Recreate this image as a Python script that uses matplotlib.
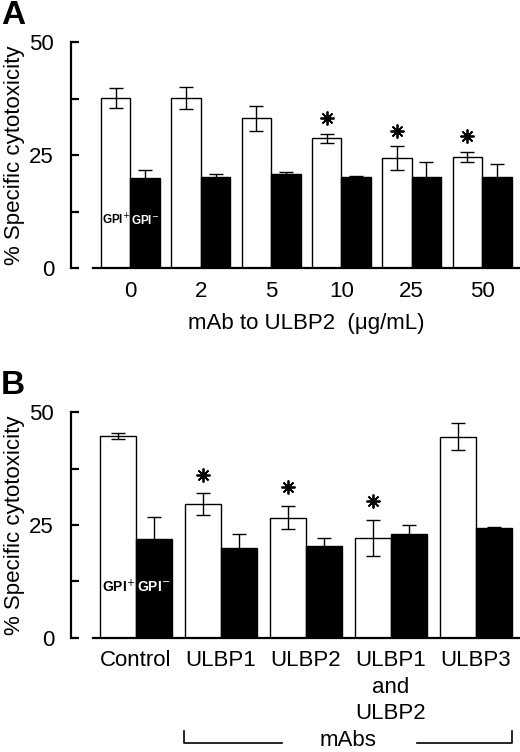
import matplotlib.pyplot as plt
import numpy as np

plt.rcParams['font.family'] = ['Liberation Sans', 'DejaVu Sans']

# panel A: mAb to ULBP2 dose
doses = ['0', '2', '5', '10', '25', '50']
a_pos = [37.6, 37.6, 33.1, 28.7, 24.3, 24.6]
a_pos_err = [2.2, 2.4, 2.8, 1.0, 2.6, 1.1]
a_neg = [20.0, 20.2, 20.9, 20.2, 20.2, 20.2]
a_neg_err = [1.7, 0.7, 0.4, 0.1, 3.2, 2.7]
a_star = [False, False, False, True, True, True]

# panel B: blocking mAbs
mabs = ['Control', 'ULBP1', 'ULBP2', 'ULBP1\nand\nULBP2', 'ULBP3']
b_pos = [44.7, 29.6, 26.6, 22.1, 44.6]
b_pos_err = [0.6, 2.4, 2.55, 4.0, 3.05]
b_neg = [22.0, 19.9, 20.4, 22.9, 24.3]
b_neg_err = [4.8, 3.0, 1.7, 2.0, 0.2]
b_star = [False, True, True, True, False]

W, H = 520, 752
fig = plt.figure(figsize=(W / 100, H / 100), dpi=100)


def panel(rect, labels, pos, pos_err, neg, neg_err, stars, w, xlim, star_gap, gpi_y, gpi_fs):
    ax = fig.add_axes(rect)
    x = np.arange(len(labels))
    ax.bar(x - w / 2, pos, w, color='white', edgecolor='black', linewidth=1.0, zorder=2)
    ax.bar(x + w / 2, neg, w, color='black', edgecolor='black', linewidth=1.0, zorder=2)
    ax.errorbar(x - w / 2, pos, yerr=pos_err, fmt='none', ecolor='black',
                elinewidth=1.0, capsize=5, capthick=1.0, zorder=3)
    ax.errorbar(x + w / 2, neg, yerr=neg_err, fmt='none', ecolor='black',
                elinewidth=1.0, capsize=5, capthick=1.0, zorder=3)
    for i, s in enumerate(stars):
        if s:
            ax.plot(x[i] - w / 2, pos[i] + pos_err[i] + star_gap, marker=(8, 2, 0),
                    ms=10, mew=1.3, color='black', zorder=4)
    ax.text(x[0] - w / 2, gpi_y, r'GPI$^{+}$', ha='center', va='center',
            fontsize=gpi_fs, fontweight='bold', color='black', zorder=5)
    ax.text(x[0] + w / 2, gpi_y, r'GPI$^{-}$', ha='center', va='center',
            fontsize=gpi_fs, fontweight='bold', color='white', zorder=5)
    ax.set_xlim(*xlim)
    ax.set_ylim(0, 50)
    ax.set_yticks([0, 12.5, 25, 37.5, 50])
    ax.set_yticklabels(['0', '', '25', '', '50'])
    ax.set_xticks(x)
    ax.set_xticklabels(labels, fontsize=16, linespacing=1.35)
    ax.tick_params(axis='x', length=0, pad=9)
    ax.tick_params(axis='y', direction='in', length=6, width=1.6, pad=12, labelsize=16)
    ax.spines['top'].set_visible(False)
    ax.spines['right'].set_visible(False)
    ax.spines['left'].set_position(('outward', 16))
    ax.spines['left'].set_linewidth(1.6)
    ax.spines['bottom'].set_linewidth(1.6)
    ax.set_ylabel('% Specific cytotoxicity', fontsize=16)
    ax.yaxis.set_label_coords(-(93 - 25) / 427, 0.5)
    return ax


axA = panel([93 / W, (H - 268) / H, 427 / W, 226 / H], doses, a_pos, a_pos_err,
            a_neg, a_neg_err, a_star, 0.42, (-0.533, 5.54), 3.5, 10.6, 8.5)
axA.set_xlabel('mAb to ULBP2  (\u03bcg/mL)', fontsize=16, labelpad=8)

axB = panel([93 / W, (H - 637.7) / H, 426 / W, 225.4 / H], mabs, b_pos, b_pos_err,
            b_neg, b_neg_err, b_star, 0.418, (-0.506, 4.506), 4.2, 11.3, 10)

fig.text(1 / W, 1 - 15 / H, 'A', fontsize=24, fontweight='bold', ha='left', va='center')
fig.text(1 / W, 1 - 385 / H, 'B', fontsize=24, fontweight='bold', ha='left', va='center')

# bracket under the mAb groups
yb = 1 - 743 / H
ytop = 1 - 731 / H
fig.add_artist(plt.Line2D([184 / W, 184 / W, 282 / W], [ytop, yb, yb], color='black', lw=1.2))
fig.add_artist(plt.Line2D([417 / W, 512 / W, 512 / W], [yb, yb, ytop], color='black', lw=1.2))
fig.text(348 / W, 1 - 741 / H, 'mAbs', fontsize=16, ha='center', va='center')

fig.savefig('out.png', dpi=100)
